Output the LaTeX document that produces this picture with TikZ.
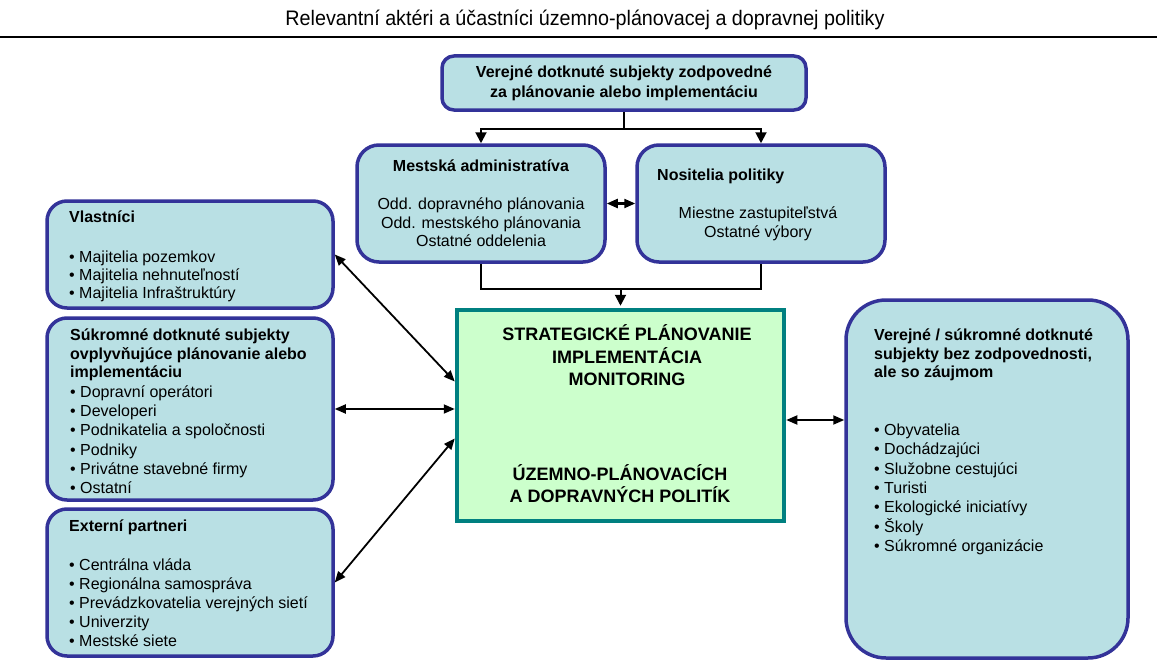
\documentclass[tikz,border=0pt]{standalone}
\usepackage{fontspec}
\setmainfont{Liberation Sans}
\newfontfamily\titlefont[FakeStretch=0.94]{Liberation Sans}
\usetikzlibrary{arrows.meta,positioning}
\definecolor{boxblue}{RGB}{185,224,228}
\definecolor{boxline}{RGB}{51,51,153}
\definecolor{midgreen}{RGB}{204,255,204}
\definecolor{midline}{RGB}{0,128,128}

\begin{document}
\begin{tikzpicture}[x=1pt,y=-1pt,
  every node/.style={font=\fontsize{16}{19.4}\selectfont},
  box/.style={draw=boxline,line width=3.5pt,fill=boxblue,rounded corners=20pt,inner sep=0pt},
  hd/.style={anchor=base west,inner sep=0pt,font=\fontsize{16}{19.4}\selectfont\bfseries},
  itm/.style={anchor=base west,inner sep=0pt},
  conn/.style={line width=2pt,-{Triangle[width=11pt,length=11pt]}},
  link/.style={line width=1.8pt,{Triangle[width=9pt,length=11pt]}-{Triangle[width=9pt,length=11pt]}}]
  \useasboundingbox[fill=white] (0,0) rectangle (1157,669);

  % title
  \node[font=\titlefont\fontsize{21}{24}\selectfont] (title) at (585,20) {Relevantní aktéri a účastníci územno-plánovacej a dopravnej politiky};
  \draw[line width=1.3pt] (0,37) -- (1157,37);

  % top row
  \node[box,rounded corners=12pt,minimum width=364pt,minimum height=54pt,align=center,font=\fontsize{16}{19.6}\selectfont\bfseries] (pub) at (624,83) {Verejné dotknuté subjekty zodpovedné\\za plánovanie alebo implementáciu};

  \node[box,rounded corners=22pt,minimum width=248pt,minimum height=117pt] (mest) at (481,203.5) {};
  \node[font=\fontsize{16}{19.4}\selectfont\bfseries] (mesth) at (481,166) {Mestská administratíva};
  \node[align=center,font=\fontsize{16}{18.6}\selectfont] (mestt) at (481,222.5) {Odd. dopravného plánovania\\Odd. mestského plánovania\\Ostatné oddelenia};

  \node[box,rounded corners=22pt,minimum width=248pt,minimum height=117pt] (nosi) at (761,203.5) {};
  \node[hd] (nosih) at (657,180.5) {Nositelia politiky};
  \node[align=center,font=\fontsize{16}{19}\selectfont] (nosit) at (758,223.5) {Miestne zastupiteľstvá\\Ostatné výbory};

  % center
  \node[draw=midline,line width=4.5pt,fill=midgreen,minimum width=327pt,minimum height=211pt] (strat) at (620.5,415.5) {};
  \node[align=center,font=\fontsize{18}{22.5}\selectfont\bfseries] (strat1) at (627,355.5) {STRATEGICKÉ PLÁNOVANIE\\IMPLEMENTÁCIA\\MONITORING};
  \node[align=center,font=\fontsize{18}{21.5}\selectfont\bfseries] (strat2) at (620,483.5) {ÚZEMNO-PLÁNOVACÍCH\\A DOPRAVNÝCH POLITÍK};

  % left column
  \node[box,minimum width=286pt,minimum height=107pt] (own) at (190,254.5) {};
  \node[hd] (ownh) at (69,222.5) {Vlastníci};
  \foreach \t [count=\i] in {Majitelia pozemkov,Majitelia nehnuteľností,Majitelia Infraštruktúry}
    \node[itm] (own\i) at (69,244.5+18*\i) {• \t};

  \node[box,minimum width=286pt,minimum height=182pt] (suk) at (190,409) {};
  \foreach \t [count=\i] in {Súkromné dotknuté subjekty,ovplyvňujúce plánovanie alebo,implementáciu}
    \node[hd] (sukh\i) at (70,321.8+18.7*\i) {\t};
  \foreach \t [count=\i] in {Dopravní operátori,Developeri,Podnikatelia a spoločnosti,Podniky,Privátne stavebné firmy,Ostatní}
    \node[itm] (suk\i) at (70,378.3+19.2*\i) {• \t};

  \node[box,minimum width=286pt,minimum height=147pt] (ext) at (190,582.5) {};
  \node[hd] (exth) at (69,531.5) {Externí partneri};
  \foreach \t [count=\i] in {Centrálna vláda,Regionálna samospráva,Prevádzkovatelia verejných sietí,Univerzity,Mestské siete}
    \node[itm] (ext\i) at (69,551.5+19*\i) {• \t};

  % right column
  \node[box,rounded corners=40pt,minimum width=282pt,minimum height=358pt] (zaj) at (987,479) {};
  \foreach \t [count=\i] in {Verejné / súkromné dotknuté,{subjekty bez zodpovednosti,},ale so záujmom}
    \node[hd] (zajh\i) at (874,321.8+18.7*\i) {\t};
  \foreach \t [count=\i] in {Obyvatelia,Dochádzajúci,Služobne cestujúci,Turisti,Ekologické iniciatívy,Školy,Súkromné organizácie}
    \node[itm] (zaj\i) at (874,416.2+19.3*\i) {• \t};

  % connectors
  \draw[conn] (pub.south) -- ++(0,17) -| (mest.north);
  \draw[conn] (pub.south) -- ++(0,17) -| (nosi.north);
  \draw[link,line width=2.2pt] (mest.east) -- (nosi.west);
  \draw[line width=2pt] (mest.south) -- ++(0,25) -| (nosi.south);
  \draw[conn,shorten >=2pt] (strat.north |- mest.south) ++(0,25) -- (strat.north);
  \draw[link] (own.east) -- ([yshift=34pt]strat.west);
  \draw[link] (suk.east) -- (suk.east -| strat.west);
  \draw[link] (ext.east) -- ([yshift=-23pt]strat.west);
  \draw[link] ([yshift=-4.5pt]strat.east) -- ([yshift=-4.5pt]strat.east -| zaj.west);
\end{tikzpicture}
\end{document}
